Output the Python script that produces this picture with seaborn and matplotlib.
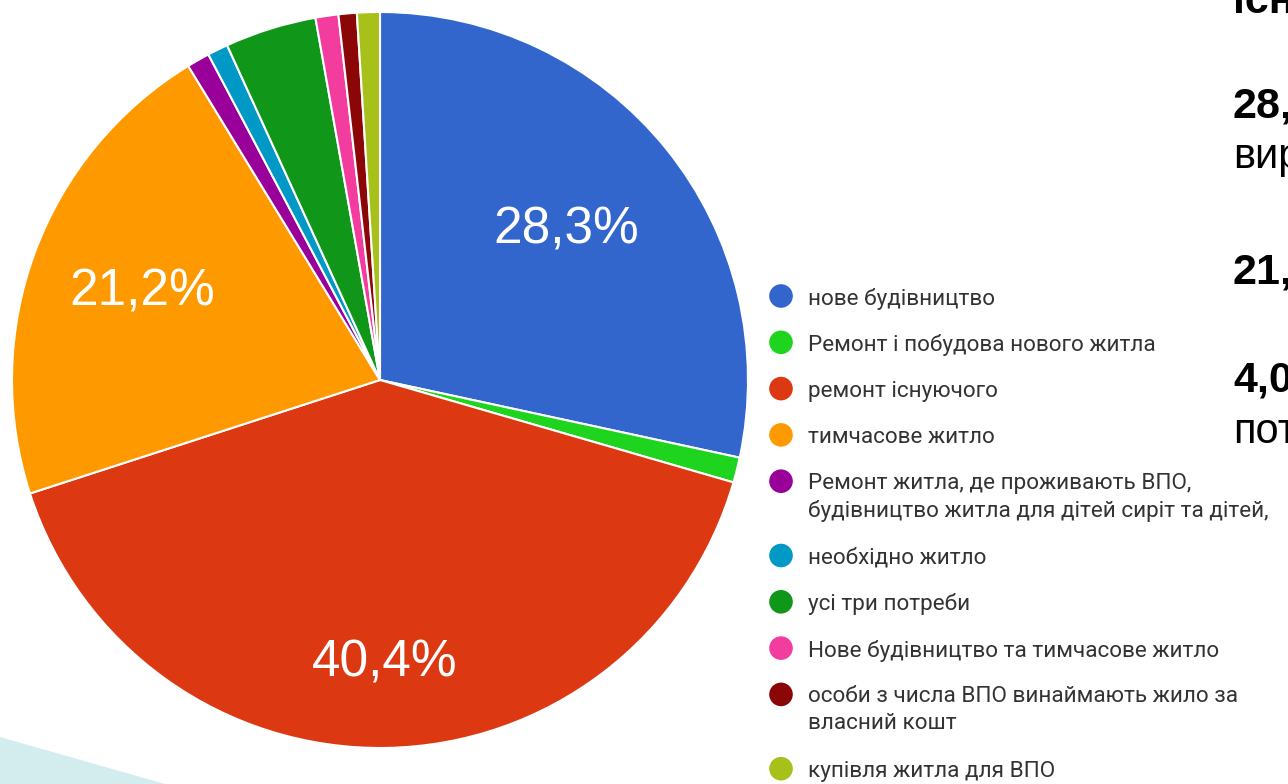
import numpy as np
import matplotlib.pyplot as plt
import seaborn as sns
from matplotlib.patches import Polygon

# pie data
categories = [
    "нове будівництво",
    "Ремонт і побудова нового житла",
    "ремонт існуючого",
    "тимчасове житло",
    "Ремонт житла, де проживають ВПО,\nбудівництво житла для дітей сиріт та дітей,",
    "необхідно житло",
    "усі три потреби",
    "Нове будівництво та тимчасове житло",
    "особи з числа ВПО винаймають жило за\nвласний кошт",
    "купівля житла для ВПО",
]
shares = [28.3, 1.1, 40.4, 21.2, 1.0, 0.9, 4.0, 1.0, 0.8, 1.0]
pct_labels = ["28,3%", "", "40,4%", "21,2%", "", "", "", "", "", ""]
label_dist = [0.65, 0, 0.77, 0.69, 0, 0, 0, 0, 0, 0]
colors = ["#3366cc", "#1fd41f", "#dc3912", "#ff9900", "#990099",
          "#0099c6", "#109618", "#f23d9e", "#8b0707", "#a8c01a"]

# visible part of the slide text next to the chart (cut at the right edge)
side_lines = ["існ", "28,", "вир", "21,", "4,0", "пот"]
side_bold = [True, True, False, True, True, False]
side_baseline = [13, 117, 168, 283, 391, 443]

sns.set_theme(style="white")
plt.rcParams['font.family'] = ['Liberation Sans', 'DejaVu Sans']

W, H = 1288, 784
fig = plt.figure(figsize=(W / 100, H / 100), dpi=100)

# pie
ax = fig.add_axes([12 / W, (H - 748) / H, 736 / W, 736 / H])
wedges, _ = ax.pie(shares, colors=colors, startangle=90, counterclock=False,
                   radius=1, wedgeprops=dict(edgecolor='white', linewidth=1.5))
ax.set_xlim(-1, 1)
ax.set_ylim(-1, 1)
ax.set_aspect('equal')
for w, lab, d in zip(wedges, pct_labels, label_dist):
    if not lab:
        continue
    mid = np.deg2rad((w.theta1 + w.theta2) / 2)
    ax.text(d * np.cos(mid), d * np.sin(mid), lab, ha='center', va='center',
            color='white', fontsize=37)

# overlay in pixel coordinates for legend and slide decoration
ov = fig.add_axes([0, 0, 1, 1])
ov.set_xlim(0, W)
ov.set_ylim(H, 0)
ov.axis('off')
ov.patch.set_alpha(0)

ov.add_patch(Polygon([(0, 737), (165, 784), (0, 784)], closed=True,
                     facecolor='#d3edee', edgecolor='none'))

# legend
y = 296
for cat, c in zip(categories, colors):
    ov.scatter(781, y, s=17 ** 2, color=c, edgecolor='none')
    for i, line in enumerate(cat.split("\n")):
        ov.text(808, y + 27 * i, line, va='center_baseline', ha='left',
                fontsize=16.2, color='#333333',
                family=['Roboto', 'DejaVu Sans'])
    y += 46.3 + 28 * cat.count("\n")

# slide text
for txt, b, yb in zip(side_lines, side_bold, side_baseline):
    ov.text(1233, yb, txt, va='baseline', ha='left',
            fontsize=31 if b else 30, fontweight='bold' if b else 'normal',
            color='black')

fig.savefig("out.png", dpi=100)
